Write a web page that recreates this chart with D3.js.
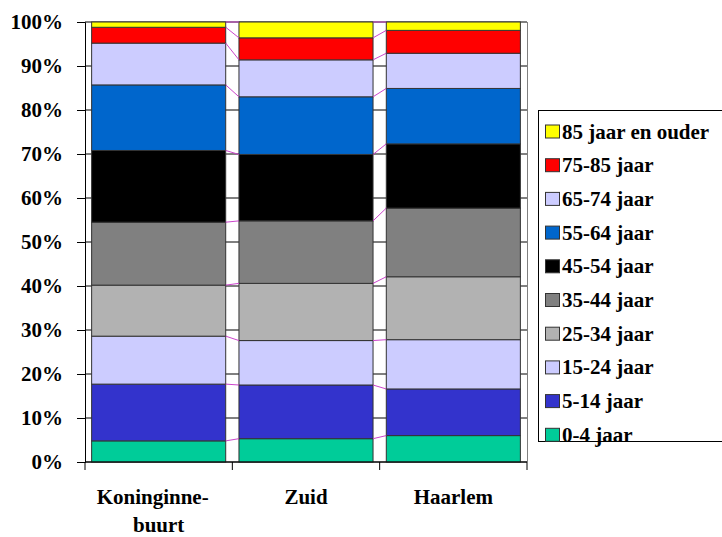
<!DOCTYPE html>
<html>
<head>
<meta charset="utf-8">
<script src="https://cdn.jsdelivr.net/npm/d3@7"></script>
</head>
<body style="margin:0">
<script>
const categories = ['Koninginne-buurt', 'Zuid', 'Haarlem']
const ageGroups = ['0-4 jaar', '5-14 jaar', '15-24 jaar', '25-34 jaar', '35-44 jaar',
  '45-54 jaar', '55-64 jaar', '65-74 jaar', '75-85 jaar', '85 jaar en ouder']
// percentages per age group, one value per category
const koninginnebuurt = [4.8, 12.9, 10.9, 11.6, 14.3, 16.3, 14.9, 9.5, 3.6, 1.2]
const zuid = [5.3, 12.2, 10.1, 13.0, 14.2, 15.1, 13.1, 8.4, 5.0, 3.6]
const haarlem = [6.0, 10.6, 11.2, 14.3, 15.6, 14.6, 12.6, 8.0, 5.2, 1.9]
const yTicks = [0, 0.1, 0.2, 0.3, 0.4, 0.5, 0.6, 0.7, 0.8, 0.9, 1]

const COLORS = ['#00CC99', '#3333CC', '#CCCCFF', '#B2B2B2', '#808080',
  '#000000', '#0066CC', '#CCCCFF', '#FF0000', '#FFFF00']
const FONT = "'Times New Roman', 'Liberation Serif', Tinos"

const width = 722
const height = 537
const margin = { top: 22, right: 195, bottom: 75, left: 85 }

const rows = [koninginnebuurt, zuid, haarlem].map((vals, i) => {
  const row = { name: categories[i] }
  ageGroups.forEach((g, j) => { row[g] = vals[j] })
  return row
})

const series = d3.stack().keys(ageGroups).offset(d3.stackOffsetExpand)(rows)

const svg = d3.select('body').append('svg')
  .attr('width', width)
  .attr('height', height)
  .attr('font-family', FONT)
  .style('font-family', FONT)

const serif = sel => sel
  .attr('font-family', FONT)
  .style('font-family', FONT)
  .style('font-weight', 'bold')
  .style('font-size', '21px')
  .attr('fill', '#000')

const x = d3.scaleBand()
  .domain(categories)
  .range([margin.left, width - margin.right])
  .paddingInner(0.09)
  .paddingOuter(0.045)

const y = d3.scaleLinear()
  .domain([0, 1])
  .range([height - margin.bottom, margin.top])

// gridlines
svg.append('g')
  .selectAll('line')
  .data(yTicks)
  .join('line')
  .attr('x1', margin.left)
  .attr('x2', width - margin.right)
  .attr('y1', d => y(d))
  .attr('y2', d => y(d))
  .attr('stroke', '#000')
  .attr('stroke-width', 1)

// plot area right border
svg.append('line')
  .attr('x1', width - margin.right + 0.5)
  .attr('x2', width - margin.right + 0.5)
  .attr('y1', y(1))
  .attr('y2', y(0))
  .attr('stroke', '#808080')

// bars
svg.append('g')
  .selectAll('g')
  .data(series)
  .join('g')
  .attr('fill', (d, i) => COLORS[i])
  .selectAll('rect')
  .data(d => d)
  .join('rect')
  .attr('x', d => x(d.data.name))
  .attr('y', d => y(d[1]))
  .attr('width', x.bandwidth())
  .attr('height', d => y(d[0]) - y(d[1]))
  .attr('stroke', '#333')
  .attr('stroke-width', 1)

// series lines between bars
const links = []
series.forEach(s => {
  for (let i = 0; i < s.length - 1; i++) {
    links.push({ a: s[i], b: s[i + 1] })
  }
})
svg.append('g')
  .selectAll('line')
  .data(links)
  .join('line')
  .attr('x1', d => x(d.a.data.name) + x.bandwidth())
  .attr('x2', d => x(d.b.data.name))
  .attr('y1', d => y(d.a[1]))
  .attr('y2', d => y(d.b[1]))
  .attr('stroke', '#CC44CC')
  .attr('stroke-width', 1)

// y axis
svg.append('g')
  .attr('transform', `translate(${margin.left},0)`)
  .call(d3.axisLeft(y).tickValues(yTicks).tickFormat(d3.format('.0%')).tickSize(8).tickPadding(14))
  .call(g => g.attr('font-family', FONT).attr('font-size', null))
  .call(g => g.selectAll('.domain').attr('stroke', '#000'))
  .call(g => g.selectAll('text').call(serif))

// x axis: domain line and ticks at category boundaries
const xAxisY = y(0)
svg.append('line')
  .attr('x1', margin.left)
  .attr('x2', width - margin.right)
  .attr('y1', xAxisY)
  .attr('y2', xAxisY)
  .attr('stroke', '#000')
const bounds = categories.map(c => x(c) - x.step() * x.paddingInner() / 2)
bounds.push(width - margin.right)
bounds[0] = margin.left
svg.append('g')
  .selectAll('line')
  .data(bounds)
  .join('line')
  .attr('x1', d => d)
  .attr('x2', d => d)
  .attr('y1', xAxisY)
  .attr('y2', xAxisY + 8)
  .attr('stroke', '#000')

svg.append('g')
  .selectAll('text')
  .data(categories)
  .join('text')
  .call(serif)
  .attr('x', d => x(d) + x.bandwidth() / 2)
  .attr('y', xAxisY + 42)
  .attr('text-anchor', 'middle')
  .each(function (d) {
    const parts = d.split('-')
    const t = d3.select(this)
    parts.forEach((p, i) => {
      t.append('tspan')
        .attr('x', x(d) + x.bandwidth() / 2 - (i < parts.length - 1 ? 6 : 0))
        .attr('dy', i === 0 ? 0 : 28)
        .text(i < parts.length - 1 ? p + '-' : p)
    })
  })

// legend
const legend = svg.append('g').attr('transform', 'translate(538,110)')
legend.append('rect')
  .attr('x', 0.5)
  .attr('y', 0.5)
  .attr('width', 200)
  .attr('height', 331)
  .attr('fill', '#fff')
  .attr('stroke', '#000')

const items = legend.selectAll('.item')
  .data(ageGroups.map((g, i) => ({ g, i })).reverse())
  .join('g')
  .attr('class', 'item')
  .attr('transform', (d, i) => `translate(0,${21.5 + i * 33.7})`)

items.append('rect')
  .attr('x', 7.5)
  .attr('y', -6.5)
  .attr('width', 14)
  .attr('height', 13)
  .attr('fill', d => COLORS[d.i])
  .attr('stroke', '#333')

items.append('text')
  .call(serif)
  .attr('x', 24)
  .attr('y', 7)
  .text(d => d.g)
</script>
</body>
</html>
